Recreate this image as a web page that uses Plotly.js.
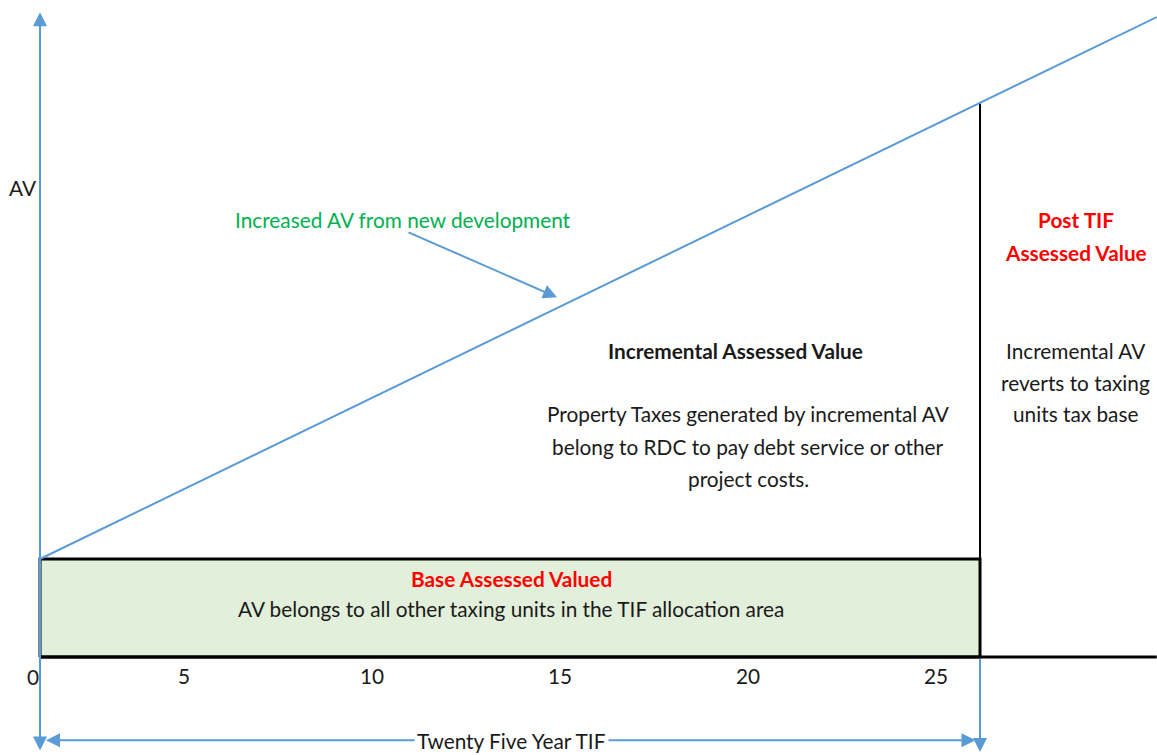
<!DOCTYPE html>
<html>
<head>
<meta charset="utf-8">
<script src="https://cdn.plot.ly/plotly-3.0.1.min.js"></script>
<style>html,body{margin:0;padding:0;background:#fff;}#chart{width:1157px;height:755px;}</style>
</head>
<body>
<div id="chart"></div>
<script>
// ---- data ----
const tickYears = [5, 10, 15, 20, 25];
const tickLabels = ['5', '10', '15', '20', '25'];
const tifStart = 0;
const tifEnd = 25;
const chartEnd = 29.7;
const baseAV = 1.0;
const avYears = [0, 25, 29.7];
const avValues = [1.0, 5.65, 6.53];

const FONT = 'Lato, "Open Sans", sans-serif';
const BLUE = '#5B9BD5';
const FS = 20.8;

const traces = [
  { // base assessed value box
    x: [tifStart, tifEnd, tifEnd, tifStart, tifStart],
    y: [0, 0, baseAV, baseAV, 0],
    mode: 'lines', fill: 'toself', fillcolor: '#E2EFDA',
    line: {color: '#000', width: 3}, hoverinfo: 'skip'
  },
  { // horizontal axis line
    x: [tifStart, chartEnd], y: [0, 0],
    mode: 'lines', line: {color: '#000', width: 3}, hoverinfo: 'skip'
  },
  { // end of TIF vertical line
    x: [tifEnd, tifEnd], y: [0, avValues[1]],
    mode: 'lines', line: {color: '#000', width: 2}, hoverinfo: 'skip'
  },
  { // increased AV line
    x: avYears, y: avValues,
    mode: 'lines', line: {color: BLUE, width: 2}, hoverinfo: 'skip'
  }
];

function txt(t, x, y, opts) {
  return Object.assign({
    text: t, x: x, y: y, xref: 'x', yref: 'y', showarrow: false,
    font: {family: FONT, size: FS, color: '#1a1a1a'},
    xanchor: 'center', yanchor: 'middle'
  }, opts || {});
}
function arrow(x0, y0, x1, y1, both) {
  return {
    text: '', x: x1, y: y1, ax: x0, ay: y0, xref: 'x', yref: 'y', axref: 'x', ayref: 'y',
    showarrow: true, arrowcolor: BLUE, arrowwidth: 2, arrowhead: 2, arrowsize: 1.4,
    startarrowhead: 2, startarrowsize: 1.4,
    arrowside: both ? 'end+start' : 'end', standoff: 0, startstandoff: 0
  };
}
const red = {family: FONT, size: FS, color: '#FF0000'};

const annotations = [
  arrow(0, -0.97, 0, 6.58, true),
  arrow(tifEnd, 0, tifEnd, -0.97, false),
  arrow(0.12, -0.85, 24.88, -0.85, true),
  arrow(9.76, 4.34, 13.75, 3.67, false),
  txt('0', 0, 0, {xshift: -7, yshift: -19}),
  txt('AV', -0.46, 4.79),
  txt('Increased AV from new development', 9.65, 4.46, {font: {family: FONT, size: FS, color: '#00B050'}}),
  txt('<b>Incremental Assessed Value</b>', 18.51, 3.13),
  txt('Property Taxes generated by incremental AV', 18.83, 2.48),
  txt('belong to RDC to pay debt service or other', 18.83, 2.15),
  txt('project costs.', 18.83, 1.82),
  txt('<b>Post TIF</b>', 27.55, 4.46, {font: red}),
  txt('<b>Assessed Value</b>', 27.55, 4.13, {font: red}),
  txt('Incremental AV', 27.55, 3.13),
  txt('reverts to taxing', 27.55, 2.80),
  txt('units tax base', 27.55, 2.48),
  txt('<b>Base Assessed Valued</b>', 12.53, 0.806, {font: red}),
  txt('AV belongs to all other taxing units in the TIF allocation area', 12.53, 0.49),
  txt('Twenty Five Year TIF', 12.55, -0.855, {bgcolor: '#fff', borderpad: 2})
];

const layout = {
  width: 1157, height: 755,
  margin: {l: 0, r: 0, t: 0, b: 0},
  paper_bgcolor: '#fff', plot_bgcolor: '#fff',
  showlegend: false,
  xaxis: {
    range: [-1.064, 29.707], anchor: 'free', position: 1 - 657/755,
    tickvals: tickYears, ticktext: tickLabels, ticklabelshift: -44,
    ticks: '', showgrid: false, zeroline: false, showline: false,
    tickfont: {family: FONT, size: FS, color: '#1a1a1a'}, ticklabelstandoff: 5,
    fixedrange: true
  },
  yaxis: {
    range: [-1.0, 6.704], showticklabels: false, ticks: '',
    showgrid: false, zeroline: false, showline: false, fixedrange: true
  },
  annotations: annotations
};

Plotly.newPlot('chart', traces, layout, {displayModeBar: false, staticPlot: true});
</script>
</body>
</html>
